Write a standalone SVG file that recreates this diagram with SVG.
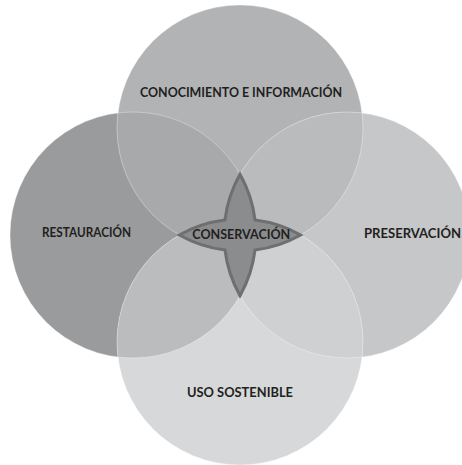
<svg xmlns="http://www.w3.org/2000/svg" width="462" height="465" viewBox="0 0 462 465">
<style>
  .lbl { font-family: Lato, "Open Sans", "Liberation Sans", sans-serif; font-weight: 700; font-size: 13px; fill: #231f20; text-anchor: middle; }
  .edge { fill: none; stroke: #ffffff; stroke-opacity: 0.45; stroke-width: 0.8; }
</style>
<defs>
  <clipPath id="clip-top"><circle cx="240" cy="128" r="123"/></clipPath>
  <clipPath id="clip-bottom"><circle cx="240" cy="342" r="123"/></clipPath>
</defs>
<rect width="462" height="465" fill="#ffffff"/>
<g id="node-conocimiento">
  <circle cx="240" cy="128" r="123" fill="#b2b3b5"/>
</g>
<g id="node-restauracion">
  <circle cx="133" cy="235" r="123" fill="#9a9b9d"/>
</g>
<g id="node-preservacion">
  <circle cx="347" cy="235" r="123" fill="#c6c7c9"/>
</g>
<g id="node-uso">
  <circle cx="240" cy="342" r="123" fill="#d7d8da"/>
</g>
<g id="overlaps">
  <circle cx="133" cy="235" r="123" fill="#a8a9ab" clip-path="url(#clip-top)"/>
  <circle cx="347" cy="235" r="123" fill="#babbbd" clip-path="url(#clip-top)"/>
  <circle cx="133" cy="235" r="123" fill="#bbbcbe" clip-path="url(#clip-bottom)"/>
  <circle cx="347" cy="235" r="123" fill="#cfd0d2" clip-path="url(#clip-bottom)"/>
</g>
<g id="edges">
  <circle class="edge" cx="240" cy="128" r="123"/>
  <circle class="edge" cx="133" cy="235" r="123"/>
  <circle class="edge" cx="347" cy="235" r="123"/>
  <circle class="edge" cx="240" cy="342" r="123"/>
</g>
<g id="connectors"></g>
<g id="node-conservacion">
  <path d="M240,174.33 A123,123 0 0 1 255,220 A123,123 0 0 1 300.67,235 A123,123 0 0 1 255,250 A123,123 0 0 1 240,295.67 A123,123 0 0 1 225,250 A123,123 0 0 1 179.33,235 A123,123 0 0 1 225,220 A123,123 0 0 1 240,174.33 Z" fill="#8b8c8e" stroke="#6e6f71" stroke-width="3" stroke-linejoin="miter"/>
  <text class="lbl" x="241.3" y="238.7" textLength="98" lengthAdjust="spacingAndGlyphs">CONSERVACIÓN</text>
</g>
<g id="labels">
  <text class="lbl" x="241" y="97" textLength="202" lengthAdjust="spacingAndGlyphs">CONOCIMIENTO E INFORMACIÓN</text>
  <text class="lbl" x="86.5" y="237" textLength="89" lengthAdjust="spacingAndGlyphs">RESTAURACIÓN</text>
  <text class="lbl" x="412.5" y="238" textLength="97" lengthAdjust="spacingAndGlyphs">PRESERVACIÓN</text>
  <text class="lbl" x="240" y="397" textLength="106" lengthAdjust="spacingAndGlyphs">USO SOSTENIBLE</text>
</g>
</svg>
